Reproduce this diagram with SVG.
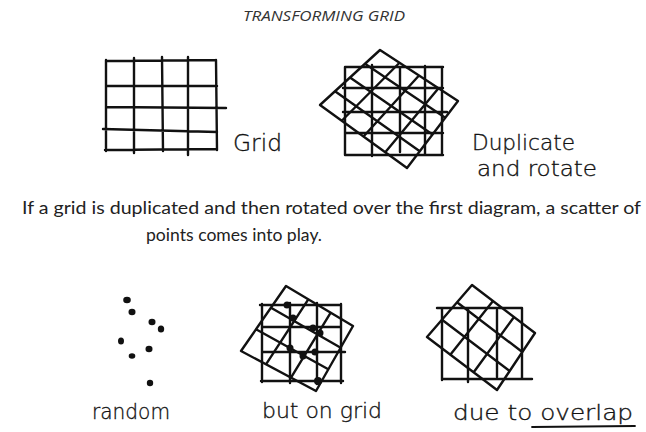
<svg xmlns="http://www.w3.org/2000/svg" width="646" height="432" viewBox="0 0 646 432">
  <style>
    .ln { fill: none; stroke: #111; stroke-width: 2.4; stroke-linecap: round; stroke-linejoin: round; }
    .dot { fill: #111; }
    .hand { font-family: "DejaVu Sans", "Liberation Sans", sans-serif; font-weight: 200; fill: #111; stroke: #111; stroke-width: 0.35; }
    .title { font-family: "Open Sans", "Liberation Sans", sans-serif; font-style: italic; font-size: 14px; fill: #333; }
    .body { font-family: "Lato", "Open Sans", sans-serif; font-size: 18px; fill: #222; }
  </style>
  <rect width="646" height="432" fill="#ffffff"/>

  <text class="title" x="243" y="21" textLength="162" lengthAdjust="spacingAndGlyphs">TRANSFORMING GRID</text>

  <g id="grid">
    <path class="ln" d="M106 60 L106 151 M134 58 L134 153 M162 57 L163 151 M188 57 L188 155 M216 60 L217 150
      M106 61 L216 60 M106 86 L217 86 M106 107 L226 108 M103 129 L217 132 M105 150 L217 149"/>
    <text class="hand" x="233" y="151" font-size="23" textLength="49" lengthAdjust="spacingAndGlyphs">Grid</text>
  </g>

  <g id="duplicate-rotate">
    <path class="ln" d="M345 67 L345 155 M372 65 L372 156 M400 68 L400 152 M425 66 L425 155 M442 67 L442 155
      M345 67 L443 67 M343 88 L443 88 M343 112 L447 112 M345 133 L443 133 M345 155 L443 155"/>
    <path class="ln" d="M320 105 L380 50 L458 101 L407 168 Z
      M335 91.25 L419.75 151.25 M350 77.5 L432.5 134.5 M365 63.75 L445.25 117.75
      M341.75 120.75 L399.5 62.75 M363.5 136.5 L419 75.5 M385.25 152.25 L438.5 88.25"/>
    <text class="hand" x="472" y="150" font-size="21" textLength="103" lengthAdjust="spacingAndGlyphs">Duplicate</text>
    <text class="hand" x="477" y="176" font-size="21" textLength="120" lengthAdjust="spacingAndGlyphs">and rotate</text>
  </g>

  <text class="body" x="22" y="214" textLength="619" lengthAdjust="spacingAndGlyphs">If a grid is duplicated and then rotated over the first diagram, a scatter of</text>
  <text class="body" x="146" y="241" textLength="176" lengthAdjust="spacingAndGlyphs">points comes into play.</text>

  <g id="random">
    <ellipse class="dot" cx="127" cy="300" rx="3.8" ry="3.2"/>
    <ellipse class="dot" cx="132" cy="312" rx="3.5" ry="3.2"/>
    <ellipse class="dot" cx="152" cy="322" rx="3.5" ry="3.2"/>
    <ellipse class="dot" cx="161" cy="329" rx="3.2" ry="3.6"/>
    <ellipse class="dot" cx="121" cy="341" rx="3" ry="3.6"/>
    <ellipse class="dot" cx="149" cy="349" rx="3.5" ry="3.3"/>
    <ellipse class="dot" cx="132" cy="356" rx="3.3" ry="2.8"/>
    <ellipse class="dot" cx="150" cy="383" rx="3.2" ry="3.2"/>
    <text class="hand" x="92" y="419" font-size="22" textLength="78" lengthAdjust="spacingAndGlyphs">random</text>
  </g>

  <g id="on-grid">
    <path class="ln" d="M262 304 L262 382 M290 303 L290 383 M317 303 L317 384 M341 304 L341 383
      M260 305 L341 305 M262 327 L341 327 M262 352 L345 352 M261 381 L343 381"/>
    <path class="ln" d="M241 351 L286 286 L353 326 L316 391 Z
      M256 329.3 L328.3 369.3 M271 307.7 L340.7 347.7
      M266 364.3 L308.3 299.3 M291 377.7 L330.7 312.7"/>
    <circle class="dot" cx="287" cy="305" r="3.5"/>
    <circle class="dot" cx="293" cy="318" r="3.5"/>
    <circle class="dot" cx="313" cy="328" r="3.5"/>
    <circle class="dot" cx="320" cy="333" r="3.5"/>
    <circle class="dot" cx="290" cy="348" r="3.5"/>
    <circle class="dot" cx="315" cy="352" r="3.5"/>
    <circle class="dot" cx="303" cy="356" r="3.5"/>
    <circle class="dot" cx="318" cy="381" r="4"/>
    <text class="hand" x="262" y="418" font-size="22" textLength="120" lengthAdjust="spacingAndGlyphs">but on grid</text>
  </g>

  <g id="overlap">
    <path class="ln" d="M442 308 L442 380 M468 308 L468 382 M497 310 L497 377 M522 308 L522 378
      M437 308 L522 308 M442 379 L532 379"/>
    <path class="ln" d="M427 337 L472 285 L535 333 L497 390 Z
      M442 319.7 L509.7 371 M457 302.3 L522.3 352
      M450.3 354.7 L493 301 M473.7 372.3 L514 317"/>
    <text class="hand" x="453" y="420" font-size="22" textLength="180" lengthAdjust="spacingAndGlyphs">due to overlap</text>
    <path class="ln" d="M532 427 L635 426" style="stroke-width:1.8"/>
  </g>
</svg>
